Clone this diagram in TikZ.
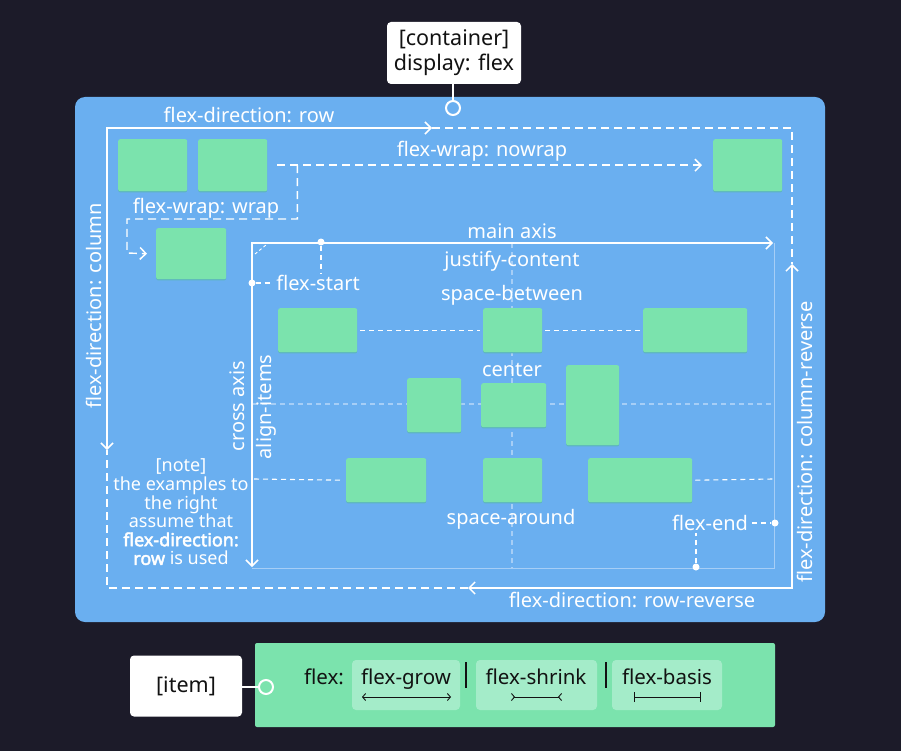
\documentclass[tikz,border=0pt]{standalone}
\usepackage{fontspec}
\setmainfont{Noto Sans}[AutoFakeBold=2.5]
\usetikzlibrary{arrows.meta,calc}
\definecolor{bg}{HTML}{1C1B29}
\definecolor{cblue}{HTML}{6AAFF0}
\definecolor{igreen}{HTML}{7BE3AD}
\definecolor{lgreen}{HTML}{A4ECC9}
\definecolor{faint}{HTML}{A6CEF6}
\definecolor{shade}{HTML}{5DB6BE}
\definecolor{ink}{HTML}{121212}
\begin{document}
\begin{tikzpicture}[x=1pt,y=-1pt,
  chev/.tip={Straight Barb[length=6pt,width=12pt,line width=1.5pt]},
  small/.tip={Straight Barb[length=3pt,width=7pt,line width=0.9pt]},
  axis/.style={draw=white,line width=1.8pt},
  outerdash/.style={draw=white,line width=1.8pt,dash pattern=on 8pt off 5pt},
  thindash/.style={draw=white,line width=1.1pt,dash pattern=on 5pt off 4pt},
  faintline/.style={draw=faint,line width=1pt},
  faintdash/.style={draw=faint,line width=1.1pt,dash pattern=on 5pt off 4pt},
  lbl/.style={text=white,inner sep=0pt,font=\fontsize{20}{24}\selectfont,
    text height=16pt,text depth=2pt},
  gbox/.style={fill=igreen,rounded corners=2pt,inner sep=0pt,anchor=north west,
    preaction={fill=shade,transform canvas={yshift=-1.2pt}}},
  dot/.style={circle,fill=white,inner sep=0pt,minimum size=7pt},
  labelbox/.style={fill=white,rounded corners=4pt,text=ink,align=center,
    font=\fontsize{21.5}{25}\selectfont,inner sep=0pt},
  pin/.style={circle,draw=white,line width=2pt,inner sep=0pt,minimum size=14pt},
  subbox/.style={fill=lgreen,rounded corners=4pt},
  itemtxt/.style={text=ink,inner sep=0pt,font=\fontsize{20.5}{24}\selectfont,
    text height=17pt,text depth=2pt}
]
\useasboundingbox (0,0) rectangle (901,751);
\fill[bg] (0,0) rectangle (901,751);

% container
\fill[cblue,rounded corners=10pt] (75,97) rectangle (825,622);
\node[labelbox,minimum width=134pt,minimum height=62pt] (cont) at (454,53) {[container]\\display: flex};
\node[pin,fill=cblue] (cpin) at (453,108) {};
\draw[white,line width=2pt] (cont.south -| cpin) -- (cpin.north);

% outer direction frame
\coordinate (rowTip) at (432,128);
\coordinate (tl) at (107,128);
\coordinate (colTip) at (107,450);
\coordinate (tr) at (792,128);
\coordinate (crTip) at (792,264);
\coordinate (br) at (792,588);
\coordinate (rrTip) at (468,588);
\coordinate (bl) at (107,588);
\draw[outerdash] (rowTip) -- (tr) -- (crTip);
\draw[outerdash] (rrTip) -- (bl) -- (colTip);
\draw[axis,chev-chev] (rowTip) -- (tl) -- (colTip);
\draw[axis,chev-chev] (rrTip) -- (br) -- (crTip);
\node[lbl] (lrow) at (249,116) {flex-direction: row};
\node[lbl,rotate=90] (lcol) at (94,306) {flex-direction: column};
\node[lbl,rotate=90] (lcolr) at (805,442) {flex-direction: column-reverse};
\node[lbl] (lrowr) at (632,600) {flex-direction: row-reverse};

% flex-wrap items
\node[gbox,minimum width=69pt,minimum height=52pt] (w1) at (118,139) {};
\node[gbox,minimum width=69pt,minimum height=52pt] (w2) at (198,139) {};
\node[gbox,minimum width=69pt,minimum height=52pt] (w3) at (713,139) {};
\node[gbox,minimum width=70pt,minimum height=51pt] (w4) at (156,228) {};
\coordinate (ws) at ($(w2.east)+(10,0)$);
\coordinate (wb) at ($(w2.east)+(30,0)$);
\draw[outerdash,line width=1.4pt,-chev] (ws) -- ($(w3.west)+(-11,0)$);
\draw[outerdash,line width=1.4pt,-chev] (wb) -- (wb |- 0,219) -- (127,219) -- (127,253)
  -- ($(w4.west)+(-9,0)$);
\node[lbl] (lnowrap) at (482,150) {flex-wrap: nowrap};
\node[lbl] (lwrap) at (206,207) {flex-wrap: wrap};

% main / cross axis area
\coordinate (mTip) at (773,243);
\coordinate (mo) at (252,243);
\coordinate (cTip) at (252,567);
\coordinate (fbr) at (774,568);
\draw[faintline] (252,568) -- (fbr) -- (774,243);
\draw[faintdash] (512,243) -- (512,568);
\draw[faintdash] (253,404) -- (773,404);
\draw[axis,chev-chev] (mTip) -- (mo) -- (cTip);
\draw[white,line width=0.9pt,dash pattern=on 3pt off 2.5pt] (255,254) -- (266,245);

\node[lbl] (lmain) at (512,231) {main axis};
\node[lbl] (ljust) at (512,259) {justify-content};
\node[lbl] (lsb) at (512,293) {space-between};
\node[lbl] (lcenter) at (512,369) {center};
\node[lbl] (lsa) at (511,517) {space-around};
\node[lbl,rotate=90] (lcross) at (237,406) {cross axis};
\node[lbl,rotate=90] (lalign) at (264,407) {align-items};

% flex-start markers
\node[lbl] (fs) at (318,283) {flex-start};
\node[dot] (fs1) at (252,283) {};
\node[dot] (fs2) at (321,242) {};
\draw[thindash] (fs1) -- ($(fs.west)+(-3,0)$);
\draw[thindash] (fs2) -- (fs2 |- 0,274);

% flex-end markers
\node[lbl] (fe) at (710,523) {flex-end};
\node[dot] (fe1) at (775,523) {};
\node[dot] (fe2) at (696,567) {};
\draw[thindash] ($(fe.east)+(4,0)$) -- (fe1);
\draw[thindash] (fe2) -- (fe2 |- 0,533);

% justify-content rows
\node[gbox,minimum width=79pt,minimum height=44pt] (a1) at (278,308) {};
\node[gbox,minimum width=59pt,minimum height=44pt] (a2) at (483,308) {};
\node[gbox,minimum width=104pt,minimum height=44pt] (a3) at (643,308) {};
\draw[thindash] ($(a1.east)+(3,0)$) -- ($(a2.west)+(-3,0)$);
\draw[thindash] ($(a2.east)+(3,0)$) -- ($(a3.west)+(-3,0)$);

\node[gbox,minimum width=54pt,minimum height=54pt] (b1) at (407,378) {};
\node[gbox,minimum width=65pt,minimum height=44pt] (b2) at (481,383) {};
\node[gbox,minimum width=53pt,minimum height=80pt] (b3) at (566,365) {};

\node[gbox,minimum width=80pt,minimum height=44pt] (c1) at (346,458) {};
\node[gbox,minimum width=59pt,minimum height=44pt] (c2) at (483,458) {};
\node[gbox,minimum width=104pt,minimum height=44pt] (c3) at (588,458) {};
\draw[thindash] (254,479) -- ($(c1.west)+(-3,0)$);
\draw[thindash] ($(c3.east)+(3,0)$) -- (773,479);

% note
\node[text=white,align=center,inner sep=0pt,font=\fontsize{18}{18.6}\selectfont] (note) at (181,512)
  {[note]\\the examples to\\the right\\assume that\\\textbf{flex-direction:}\\\textbf{row} is used};

% item
\fill[igreen,rounded corners=2pt] (255,643) rectangle (775,727);
\node[labelbox,minimum width=112pt,minimum height=61pt] (item) at (186,686) {[item]};
\node[pin,fill=igreen] (ipin) at (266,687) {};
\draw[white,line width=2pt] (item.east |- ipin) -- (ipin.west);
\node[itemtxt] (flex) at (324,677) {flex:};
\fill[subbox] (352,660) rectangle (460,710);
\fill[subbox] (476,660) rectangle (597,710);
\fill[subbox] (612,660) rectangle (722,710);
\node[itemtxt] (grow) at (406,677) {flex-grow};
\node[itemtxt] (shrink) at (536,677) {flex-shrink};
\node[itemtxt] (basis) at (667,677) {flex-basis};
\draw[ink,line width=1.3pt] (466,662) -- (466,688);
\draw[ink,line width=1.3pt] (606,662) -- (606,688);
\draw[ink,line width=0.9pt,small-small] (362,697) -- (451,697);
\draw[ink,line width=0.9pt,{Straight Barb[reversed,length=3pt,width=7pt,line width=0.9pt]}-{Straight Barb[reversed,length=3pt,width=7pt,line width=0.9pt]}] (511,697) -- (562,697);
\draw[ink,line width=0.9pt,{Bar[width=10pt]}-{Bar[width=10pt]}] (634,697) -- (701,697);
\end{tikzpicture}
\end{document}
